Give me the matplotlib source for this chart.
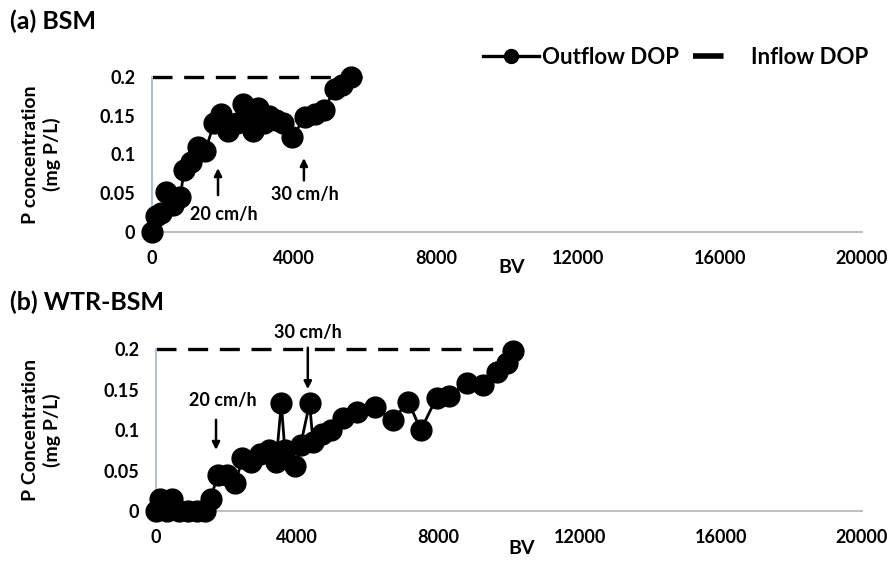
import numpy as np
import matplotlib
matplotlib.use("Agg")
import matplotlib.pyplot as plt
from matplotlib.lines import Line2D

plt.rcParams['font.family'] = ['Lato', 'DejaVu Sans']
plt.rcParams['font.weight'] = 'bold'

# (a) BSM column
bv_a = [0, 100, 250, 400, 600, 800, 900, 1100, 1300, 1500, 1750, 1950, 2150, 2400,
        2550, 2700, 2850, 3000, 3150, 3300, 3500, 3700, 3950, 4300, 4600, 4850,
        5150, 5350, 5600]
dop_a = [0.0, 0.020, 0.025, 0.052, 0.035, 0.045, 0.080, 0.090, 0.110, 0.105, 0.140,
         0.152, 0.130, 0.140, 0.165, 0.145, 0.130, 0.160, 0.140, 0.150, 0.145, 0.140,
         0.122, 0.148, 0.152, 0.158, 0.185, 0.190, 0.200]

# (b) WTR-BSM column
bv_b = [0, 100, 300, 450, 650, 900, 1150, 1400, 1550, 1750, 2000, 2250, 2450, 2700,
        2950, 3200, 3400, 3550, 3650, 3950, 4100, 4350, 4450, 4700, 4950, 5300, 5700,
        6200, 6700, 7150, 7500, 7950, 8300, 8800, 9250, 9650, 9950, 10100]
dop_b = [0.0, 0.015, 0.0, 0.015, 0.0, 0.0, 0.0, 0.0, 0.015, 0.045, 0.045, 0.035, 0.065,
         0.060, 0.070, 0.075, 0.060, 0.133, 0.075, 0.055, 0.082, 0.133, 0.085, 0.095,
         0.100, 0.115, 0.122, 0.128, 0.112, 0.135, 0.100, 0.140, 0.142, 0.158, 0.155,
         0.172, 0.183, 0.198]

inflow = 0.2
inflow_end = [6000, 10000]
xticks = [0, 4000, 8000, 12000, 16000, 20000]
yticks = [0, 0.05, 0.1, 0.15, 0.2]

fig = plt.figure(figsize=(8.93, 5.69), dpi=100)
ax_a = fig.add_axes([0.1702, 0.5923, 0.795, 0.2724])
ax_b = fig.add_axes([0.1747, 0.1019, 0.7906, 0.2847])

panels = [
    (ax_a, bv_a, dop_a, inflow_end[0], "P concentration\n(mg P/L)", -0.128),
    (ax_b, bv_b, dop_b, inflow_end[1], "P Concentration\n(mg P/L)", -0.135),
]

for ax, bv, dop, end, ylab, lab_x in panels:
    ax.plot([0, end], [inflow, inflow], color='black', lw=2.4, dashes=(6, 3.5),
            clip_on=False, zorder=2)
    ax.plot(bv, dop, color='black', lw=2, marker='o', ms=15, clip_on=False, zorder=3)
    ax.set_xlim(0, 20000)
    ax.set_ylim(0, 0.2)
    ax.set_xticks(xticks)
    ax.set_xticklabels([str(t) for t in xticks])
    ax.set_yticks(yticks)
    ax.set_yticklabels(['0', '0.05', '0.1', '0.15', '0.2'])
    ax.tick_params(length=0, labelsize=13)
    ax.tick_params(axis='y', pad=12)
    ax.tick_params(axis='x', pad=13)
    for s in ['top', 'right']:
        ax.spines[s].set_visible(False)
    ax.spines['left'].set_color('#b4bfcc')
    ax.spines['bottom'].set_color('#bfbfbf')
    ax.spines['left'].set_linewidth(1.5)
    ax.spines['bottom'].set_linewidth(1.5)
    ax.set_ylabel(ylab, fontsize=14, fontweight='bold', linespacing=1.25)
    ax.yaxis.set_label_coords(lab_x, 0.5)

fig.text(0.011, 0.962, "(a) BSM", fontsize=18, fontweight='bold', va='center')
fig.text(0.011, 0.468, "(b) WTR-BSM", fontsize=18, fontweight='bold', va='center')
fig.text(512 / 893, 1 - 267 / 569, "BV", fontsize=14, fontweight='bold', ha='center', va='center')
fig.text(522 / 893, 1 - 548 / 569, "BV", fontsize=14, fontweight='bold', ha='center', va='center')

# flow-rate change markers
arrow = dict(arrowstyle='-|>', color='black', lw=1.8, mutation_scale=11)
ax_a.annotate('', xy=(1860, 0.086), xytext=(1860, 0.044), arrowprops=arrow)
ax_a.text(2030, 0.022, "20 cm/h", fontsize=13, ha='center', va='center')
ax_a.annotate('', xy=(4280, 0.099), xytext=(4280, 0.063), arrowprops=arrow)
ax_a.text(4310, 0.048, "30 cm/h", fontsize=13, ha='center', va='center')

ax_b.annotate('', xy=(1700, 0.072), xytext=(1700, 0.116), arrowprops=arrow)
ax_b.text(1900, 0.137, "20 cm/h", fontsize=13, ha='center', va='center')
ax_b.annotate('', xy=(4300, 0.147), xytext=(4300, 0.205), arrowprops=arrow,
              annotation_clip=False)
ax_b.text(4300, 0.221, "30 cm/h", fontsize=13, ha='center', va='center', clip_on=False)

handles = [
    Line2D([], [], color='black', lw=2.4, marker='o', ms=10),
    Line2D([], [], color='black', lw=4, dashes=(5.5, 10)),
]
fig.legend(handles, ["Outflow DOP", "Inflow DOP"], loc='center', ncol=2,
           bbox_to_anchor=(676 / 893, 1 - 57 / 569), frameon=False,
           handlelength=2.5, handletextpad=0.15, columnspacing=0.6,
           prop={'weight': 'bold', 'size': 16})

fig.savefig("out.png", dpi=100)
